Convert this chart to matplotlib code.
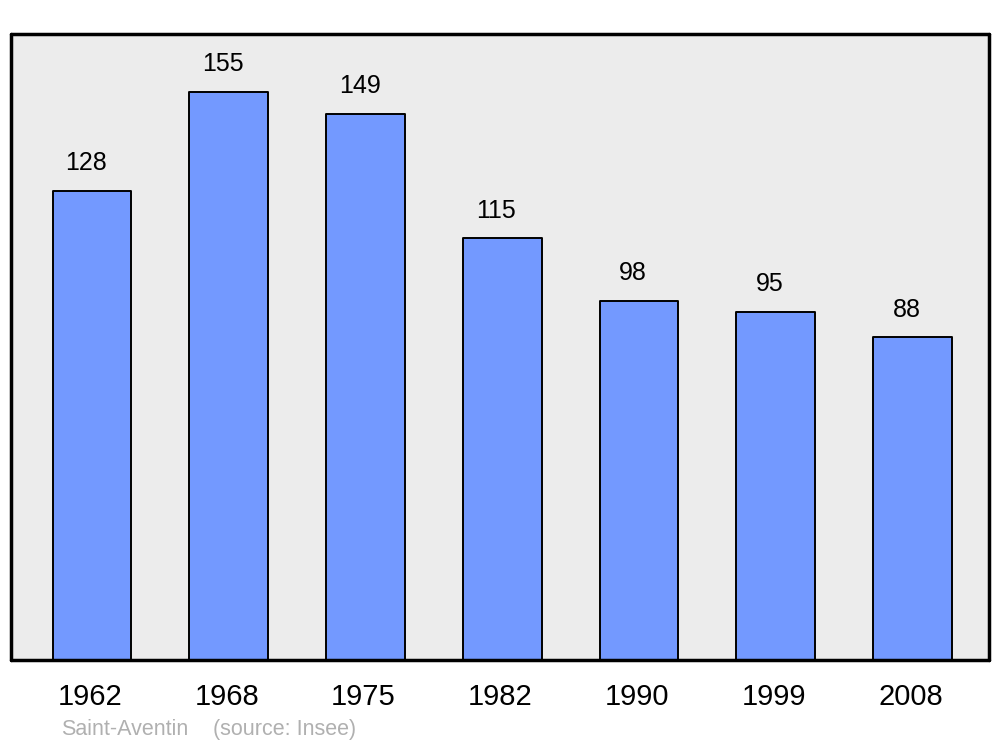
import numpy as np
import matplotlib.pyplot as plt
from matplotlib.transforms import offset_copy

years = ["1962", "1968", "1975", "1982", "1990", "1999", "2008"]
population = [128, 155, 149, 115, 98, 95, 88]
town = "Saint-Aventin"
source = "(source: Insee)"

plt.rcParams['font.family'] = ['Liberation Sans', 'DejaVu Sans']

fig = plt.figure(figsize=(10, 7.47), dpi=100)
ax = fig.add_axes([0.011, 0.1165, 0.978, 0.838])
ax.set_facecolor('#ececec')

x = np.arange(len(years))
bars = ax.bar(x, population, width=0.575, color='#7399ff', edgecolor='black',
              linewidth=1.4, zorder=2)
for b in bars:
    b.set_joinstyle('round')

ax.set_xlim(-0.592, 6.559)
ax.set_ylim(0, 170.8)
ax.set_xticks([])
ax.set_yticks([])
for s in ax.spines.values():
    s.set_linewidth(2.5)
    s.set_capstyle('round')

# value labels above bars
for xi, v in zip(x, population):
    ax.annotate(str(v), (xi, v), xytext=(-4.3, 20), textcoords='offset points',
                ha='center', va='center', fontsize=18, color='black')

# year labels below the axis
trans = offset_copy(ax.get_xaxis_transform(), fig=fig, x=-1.5, y=-26.5, units='points')
for xi, yr in zip(x, years):
    ax.text(xi, 0, yr, transform=trans, ha='center', va='center', fontsize=21)

fig.text(0.061, 0.023, town, ha='left', va='center', fontsize=15.5, color='#b0b0b0')
fig.text(0.213, 0.023, source, ha='left', va='center', fontsize=15.5, color='#b0b0b0')

fig.savefig('out.png', dpi=100)
